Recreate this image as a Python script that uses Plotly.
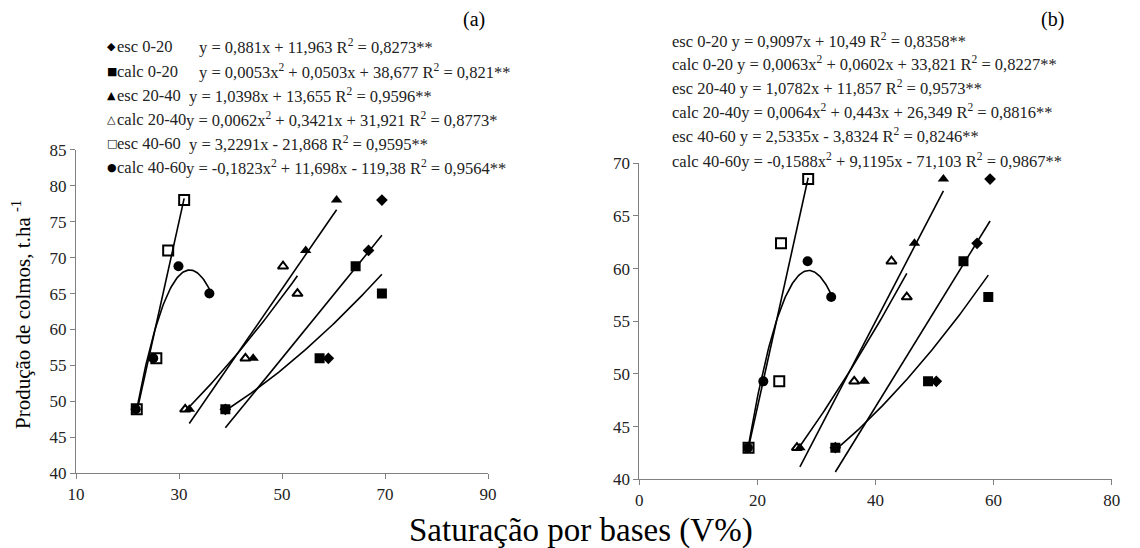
import plotly.graph_objects as go
import numpy as np

# ---------------- data panel (a) ----------------
a_esc020_x = [39.0, 59.0, 66.8, 69.4]
a_esc020_y = [48.9, 56.0, 71.0, 78.0]
a_calc020_x = [39.0, 57.3, 64.3, 69.4]
a_calc020_y = [48.9, 56.0, 68.8, 65.0]
a_esc2040_x = [32.0, 44.4, 54.6, 60.6]
a_esc2040_y = [48.9, 56.0, 71.0, 78.0]
a_calc2040_x = [31.2, 42.9, 50.2, 53.0]
a_calc2040_y = [48.9, 56.0, 68.8, 65.0]
a_esc4060_x = [21.8, 25.6, 27.9, 31.0]
a_esc4060_y = [48.9, 56.0, 71.0, 78.0]
a_calc4060_x = [21.6, 25.0, 29.9, 35.9]
a_calc4060_y = [48.9, 56.0, 68.8, 65.0]

# trendline coefficients (a): [c2, c1, c0]
a_coef = {
    "esc020": [0.0, 0.881, 11.963],
    "calc020": [0.0053, 0.0503, 38.677],
    "esc2040": [0.0, 1.0398, 13.655],
    "calc2040": [0.0062, 0.3421, 31.921],
    "esc4060": [0.0, 3.2291, -21.868],
    "calc4060": [-0.1823, 11.698, -119.38],
}

# ---------------- data panel (b) ----------------
b_esc020_x = [33.2, 50.3, 57.2, 59.4]
b_esc020_y = [43.0, 49.3, 62.4, 68.5]
b_calc020_x = [33.2, 48.9, 54.9, 59.1]
b_calc020_y = [43.0, 49.3, 60.7, 57.3]
b_esc2040_x = [27.2, 38.1, 46.6, 51.5]
b_esc2040_y = [43.0, 49.3, 62.4, 68.5]
b_calc2040_x = [26.7, 36.4, 42.7, 45.3]
b_calc2040_y = [43.0, 49.3, 60.7, 57.3]
b_esc4060_x = [18.5, 23.7, 24.0, 28.6]
b_esc4060_y = [43.0, 49.3, 62.4, 68.5]
b_calc4060_x = [18.4, 21.0, 28.5, 32.5]
b_calc4060_y = [43.0, 49.3, 60.7, 57.3]

b_coef = {
    "esc020": [0.0, 0.9097, 10.49],
    "calc020": [0.0063, 0.0602, 33.821],
    "esc2040": [0.0, 1.0782, 11.857],
    "calc2040": [0.0064, 0.443, 26.349],
    "esc4060": [0.0, 2.5335, -3.8324],
    "calc4060": [-0.1588, 9.1195, -71.103],
}

# legend / equation texts
a_labels = ["esc 0-20", "calc 0-20", "esc 20-40", "calc 20-40", "esc 40-60", "calc 40-60"]
a_symbols = ["◆", "■", "▲", "△", "□", "●"]
a_eqs = [
    "y = 0,881x + 11,963 R<sup>2</sup> = 0,8273**",
    "y = 0,0053x<sup>2</sup> + 0,0503x + 38,677 R<sup>2</sup> = 0,821**",
    "y = 1,0398x + 13,655 R<sup>2</sup> = 0,9596**",
    "y = 0,0062x<sup>2</sup> + 0,3421x + 31,921 R<sup>2</sup> = 0,8773*",
    "y = 3,2291x - 21,868 R<sup>2</sup> = 0,9595**",
    "y = -0,1823x<sup>2</sup> + 11,698x - 119,38 R<sup>2</sup> = 0,9564**",
]
b_lines = [
    "esc 0-20 y = 0,9097x + 10,49 R<sup>2</sup> = 0,8358**",
    "calc 0-20 y = 0,0063x<sup>2</sup> + 0,0602x + 33,821 R<sup>2</sup> = 0,8227**",
    "esc 20-40 y = 1,0782x + 11,857 R<sup>2</sup> = 0,9573**",
    "calc 20-40y = 0,0064x<sup>2</sup> + 0,443x + 26,349 R<sup>2</sup> = 0,8816**",
    "esc 40-60 y = 2,5335x - 3,8324 R<sup>2</sup> = 0,8246**",
    "calc 40-60y = -0,1588x<sup>2</sup> + 9,1195x - 71,103 R<sup>2</sup> = 0,9867**",
]

a_xticks = [10, 30, 50, 70, 90]
a_yticks = [40, 45, 50, 55, 60, 65, 70, 75, 80, 85]
b_xticks = [0, 20, 40, 60, 80]
b_yticks = [40, 45, 50, 55, 60, 65, 70]

W, H = 1140, 548
OFF = 8  # page body margin in the browser
SERIF = "Liberation Serif"
TICKFONT = dict(family=SERIF, size=17, color="#222")
LEGSIZE = 16.5

fig = go.Figure()

marker_styles = {
    "esc020": dict(symbol="diamond", size=9, color="black"),
    "calc020": dict(symbol="square", size=10, color="black"),
    "esc2040": dict(symbol="triangle-up", size=10, color="black"),
    "calc2040": dict(symbol="triangle-up-open", size=9, color="black", line=dict(width=2, color="black")),
    "esc4060": dict(symbol="square-open", size=10, color="black", line=dict(width=2, color="black")),
    "calc4060": dict(symbol="circle", size=10, color="black"),
}


def add_panel(series, coefs, xa, ya):
    for key, (xs, ys) in series.items():
        c2, c1, c0 = coefs[key]
        xx = np.linspace(min(xs), max(xs), 80)
        yy = c2 * xx ** 2 + c1 * xx + c0
        fig.add_trace(go.Scatter(x=xx, y=yy, mode="lines", xaxis=xa, yaxis=ya,
                                 line=dict(color="black", width=1.6), showlegend=False,
                                 hoverinfo="skip"))
    for key, (xs, ys) in series.items():
        fig.add_trace(go.Scatter(x=xs, y=ys, mode="markers", xaxis=xa, yaxis=ya,
                                 marker=marker_styles[key], showlegend=False))


add_panel({
    "esc020": (a_esc020_x, a_esc020_y),
    "calc020": (a_calc020_x, a_calc020_y),
    "esc2040": (a_esc2040_x, a_esc2040_y),
    "calc2040": (a_calc2040_x, a_calc2040_y),
    "esc4060": (a_esc4060_x, a_esc4060_y),
    "calc4060": (a_calc4060_x, a_calc4060_y),
}, a_coef, "x", "y")

add_panel({
    "esc020": (b_esc020_x, b_esc020_y),
    "calc020": (b_calc020_x, b_calc020_y),
    "esc2040": (b_esc2040_x, b_esc2040_y),
    "calc2040": (b_calc2040_x, b_calc2040_y),
    "esc4060": (b_esc4060_x, b_esc4060_y),
    "calc4060": (b_calc4060_x, b_calc4060_y),
}, b_coef, "x2", "y2")

axis_common = dict(showgrid=False, zeroline=False, showline=True, linecolor="#808080",
                   linewidth=1, ticks="outside", ticklen=5, tickcolor="#808080",
                   tickfont=TICKFONT, automargin=False)


def px_x(p):
    return (p - OFF) / W


def px_y(p):
    return 1 - (p - OFF) / H


fig.update_layout(
    template="none",
    width=W, height=H,
    margin=dict(l=0, r=0, t=0, b=0, pad=0, autoexpand=False),
    plot_bgcolor="white", paper_bgcolor="white",
    showlegend=False,
    xaxis=dict(domain=[px_x(76), px_x(488)], range=[10, 90], tickvals=a_xticks,
               anchor="y", **axis_common),
    yaxis=dict(domain=[px_y(473.3), px_y(149.8)], range=[40, 85], tickvals=a_yticks,
               anchor="x", **axis_common),
    xaxis2=dict(domain=[px_x(639.3), px_x(1111.7)], range=[0, 80], tickvals=b_xticks,
                anchor="y2", **axis_common),
    yaxis2=dict(domain=[px_y(479.3), px_y(163.3)], range=[40, 70], tickvals=b_yticks,
                anchor="x2", **axis_common),
)

ann = []
a_rows = [46.7, 71.2, 95.2, 119.3, 143.3, 167.0]
a_eq_x = [197, 197, 187, 184, 187, 184]
for i in range(6):
    ann.append(dict(x=px_x(105), y=px_y(a_rows[i]), xref="paper", yref="paper",
                    text=a_symbols[i], showarrow=False, xanchor="left", yanchor="middle",
                    font=dict(family="DejaVu Sans", size=11, color="black")))
    ann.append(dict(x=px_x(115), y=px_y(a_rows[i]), xref="paper", yref="paper",
                    text=a_labels[i], showarrow=False, xanchor="left", yanchor="middle",
                    font=dict(family=SERIF, size=LEGSIZE, color="#222")))
    ann.append(dict(x=px_x(a_eq_x[i]), y=px_y(a_rows[i]), xref="paper", yref="paper",
                    text=a_eqs[i], showarrow=False, xanchor="left", yanchor="middle",
                    font=dict(family=SERIF, size=LEGSIZE, color="#222")))
b_rows = [40.0, 63.5, 87.7, 111.7, 136.0, 160.0]
for i in range(6):
    ann.append(dict(x=px_x(670), y=px_y(b_rows[i]), xref="paper", yref="paper",
                    text=b_lines[i], showarrow=False, xanchor="left", yanchor="middle",
                    font=dict(family=SERIF, size=LEGSIZE, color="#222")))
ann.append(dict(x=px_x(474), y=px_y(20), xref="paper", yref="paper", text="(a)",
                xanchor="center", yanchor="middle",
                showarrow=False, font=dict(family=SERIF, size=20, color="black")))
ann.append(dict(x=px_x(1052), y=px_y(20), xref="paper", yref="paper", text="(b)",
                xanchor="center", yanchor="middle",
                showarrow=False, font=dict(family=SERIF, size=20, color="black")))
ann.append(dict(x=px_x(21), y=px_y(315), xref="paper", yref="paper",
                xanchor="center", yanchor="middle",
                text="Produção de colmos, t.ha <sup>-1</sup>", textangle=-90, showarrow=False,
                font=dict(family=SERIF, size=21, color="black")))
ann.append(dict(x=px_x(581), y=px_y(530), xref="paper", yref="paper",
                xanchor="center", yanchor="middle",
                text="Saturação por bases (V%)", showarrow=False,
                font=dict(family=SERIF, size=33, color="black")))
fig.update_layout(annotations=ann)

fig.write_html("out.html")
